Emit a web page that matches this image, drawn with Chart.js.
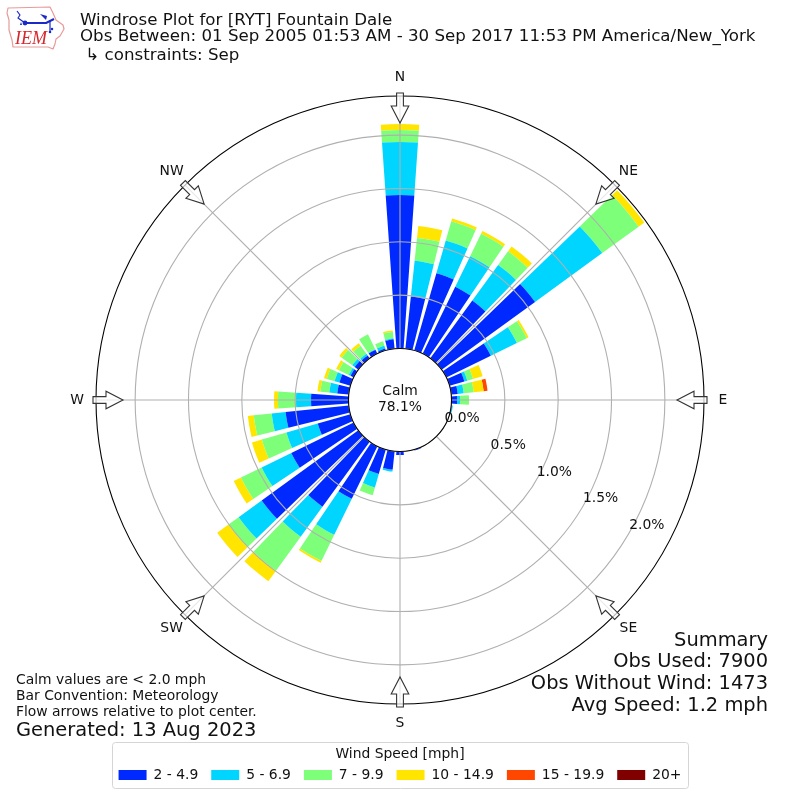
<!DOCTYPE html>
<html>
<head>
<meta charset="utf-8">
<style>html,body{margin:0;padding:0;background:#fff}canvas{display:block}</style>
<script src="https://cdn.jsdelivr.net/npm/chart.js@4/dist/chart.umd.js"></script>
</head>
<body>
<canvas id="c" width="800" height="800"></canvas>
<script>
const compassLabels = ['N','NE','E','SE','S','SW','W','NW'];
const directions = [0,10,20,30,40,50,60,70,80,90,100,110,120,130,140,150,160,170,180,190,200,210,220,230,240,250,260,270,280,290,300,310,320,330,340,350];
const speedLabels = ['2 - 4.9','5 - 6.9','7 - 9.9','10 - 14.9','15 - 19.9','20+'];
const speedColors = ['#0029ff','#00d5ff','#7dff7a','#ffe500','#ff4700','#800000'];
const speed2to5   = [1.439,.492,.754,.698,.670,1.082,.464,.145,.061,.052,.005,0,0,0,0,0,.010,0,.033,.173,.239,.548,.754,1.120,.651,.319,.595,.351,.108,.108,.033,.042,.033,.042,.019,.089];
const speed5to7   = [.497,.337,.319,.319,.412,.778,.272,.028,.056,.028,.010,0,0,0,0,0,0,0,0,.019,.131,.375,.347,.267,.309,.305,.131,.141,.075,.047,.019,.028,.019,.005,.028,.009];
const speed7to10  = [.112,.216,.187,.234,.159,.422,.103,.056,.094,.084,0,0,0,0,0,0,0,0,0,0,.075,.272,.394,.117,.216,.240,.169,.169,.084,.075,.103,.122,.094,.155,.042,.061];
const speed10to15 = [.056,.112,.028,.028,.056,.066,.019,.094,.094,0,0,0,0,0,0,0,0,0,0,0,0,.019,.122,.131,.075,.097,.056,.037,.028,.028,.028,.028,.028,0,0,.014];
const speed15to20 = [0,0,0,0,0,0,0,0,.037,0,0,0,0,0,0,0,0,0,0,0,0,0,0,0,0,0,0,0,0,0,0,0,0,0,0,0];
const speed20plus = [0,0,0,0,0,0,0,0,0,0,0,0,0,0,0,0,0,0,0,0,0,0,0,0,0,0,0,0,0,0,0,0,0,0,0,0];
const seriesValues = [speed2to5,speed5to7,speed7to10,speed10to15,speed15to20,speed20plus];
const radialTicks = [0,0.5,1,1.5,2];
const titleLines = ['Windrose Plot for [RYT] Fountain Dale','Obs Between: 01 Sep 2005 01:53 AM - 30 Sep 2017 11:53 PM America/New_York',' \u21B3 constraints: Sep'];
const noteLines = ['Calm values are < 2.0 mph','Bar Convention: Meteorology','Flow arrows relative to plot center.'];
const generatedLine = 'Generated: 13 Aug 2023';
const summaryLines = ['Summary','Obs Used: 7900','Obs Without Wind: 1473','Avg Speed: 1.2 mph'];
const calmLines = ['Calm','78.1%'];

const FONT = '"DejaVu Sans"';
const BAR_DEG = 8;
Chart.defaults.font.family = FONT;

class WindroseController extends Chart.PolarAreaController {
  updateElements(arcs, start, count, mode) {
    const scale = this._cachedMeta.rScale;
    const ds = this.index;
    const all = this.chart.data.datasets;
    for (let i = start; i < start + count; i++) {
      let base = 0;
      for (let d = 0; d < ds; d++) base += all[d].data[i] || 0;
      const v = all[ds].data[i] || 0;
      const mid = (directions[i] - 90) * Math.PI / 180;
      const half = BAR_DEG / 2 * Math.PI / 180;
      const inner = scale.getDistanceFromCenterForValue(base);
      const outer = scale.getDistanceFromCenterForValue(base + v);
      this.updateElement(arcs[i], i, {
        x: scale.xCenter, y: scale.yCenter,
        innerRadius: inner, outerRadius: outer,
        startAngle: mid - half, endAngle: mid + half,
        circumference: 2 * half,
        options: this.resolveDataElementOptions(i, mode)
      }, mode);
    }
  }
}
WindroseController.id = 'windrose';
Chart.register(WindroseController);

function text(ctx, s, x, y, font, align, color) {
  ctx.font = font; ctx.textAlign = align || 'left'; ctx.textBaseline = 'middle';
  ctx.fillStyle = color || '#000'; ctx.fillText(s, x, y);
}

function drawLogo(ctx) {
  ctx.save();
  ctx.strokeStyle = '#e89a9a'; ctx.lineWidth = 1.2; ctx.lineJoin = 'round';
  ctx.beginPath();
  [[8,8],[50,7],[53,13],[56,20],[63,25],[64,29],[60,36],[56,39],[55,44],[53,49],[48,47],[13,47],[12,40],[9,30],[9,20],[7,13]]
    .forEach((p, i) => i ? ctx.lineTo(p[0], p[1]) : ctx.moveTo(p[0], p[1]));
  ctx.closePath(); ctx.stroke();
  ctx.strokeStyle = '#1a2ac8'; ctx.fillStyle = '#1a2ac8'; ctx.lineWidth = 2;
  ctx.beginPath(); ctx.moveTo(25,23); ctx.lineTo(46,23); ctx.lineTo(54,19); ctx.stroke();
  ctx.lineWidth = 1.2;
  ctx.beginPath(); ctx.moveTo(17,11); ctx.lineTo(20,15); ctx.lineTo(18,18); ctx.lineTo(25,23);
  ctx.moveTo(50,20); ctx.lineTo(50,31); ctx.stroke();
  ctx.beginPath(); ctx.arc(25,23,2.4,0,7); ctx.fill();
  ctx.beginPath(); ctx.moveTo(40,14); ctx.lineTo(47,16); ctx.lineTo(46,20); ctx.closePath(); ctx.fill();
  ctx.beginPath(); ctx.arc(52,29,1.3,0,7); ctx.arc(50,32,1.3,0,7); ctx.fill();
  ctx.beginPath(); ctx.moveTo(20,25); ctx.lineTo(22,25); ctx.lineTo(21,22); ctx.closePath(); ctx.fill();
  ctx.restore();
  text(ctx, 'IEM', 15, 39, 'italic 18px "Liberation Serif"', 'left', '#d8262c');
}

function drawArrow(ctx, cx, cy, angle) {
  ctx.save();
  ctx.translate(cx, cy); ctx.rotate(angle);
  ctx.beginPath();
  ctx.moveTo(307, -3.4); ctx.lineTo(294, -3.4); ctx.lineTo(294, -8.8);
  ctx.lineTo(277, 0);
  ctx.lineTo(294, 8.8); ctx.lineTo(294, 3.4); ctx.lineTo(307, 3.4);
  ctx.closePath();
  ctx.fillStyle = 'rgba(255,255,255,0.7)'; ctx.fill();
  ctx.strokeStyle = '#333'; ctx.lineWidth = 1.1; ctx.stroke();
  ctx.restore();
}

const decorations = {
  id: 'decorations',
  afterDraw(chart) {
    const ctx = chart.ctx, r = chart.scales.r;
    const cx = r.xCenter, cy = r.yCenter;
    ctx.save();
    ctx.beginPath(); ctx.arc(cx, cy, r.getDistanceFromCenterForValue(r.max), 0, Math.PI * 2);
    ctx.strokeStyle = '#000'; ctx.lineWidth = 1.1; ctx.stroke();
    ctx.beginPath(); ctx.arc(cx, cy, r.getDistanceFromCenterForValue(0), 0, Math.PI * 2);
    ctx.fillStyle = '#fff'; ctx.fill(); ctx.strokeStyle = '#000'; ctx.lineWidth = 1.1; ctx.stroke();
    text(ctx, calmLines[0], cx, cy - 9, '13.89px ' + FONT, 'center', '#111');
    text(ctx, calmLines[1], cx, cy + 7.5, '13.89px ' + FONT, 'center', '#111');
    compassLabels.forEach((lab, i) => {
      const a = r.getIndexAngle(i) - Math.PI / 2;
      drawArrow(ctx, cx, cy, a);
      text(ctx, lab, cx + 323 * Math.cos(a), cy + 323 * Math.sin(a), '13.89px ' + FONT, 'center', '#111');
    });
    const rl = 30 * Math.PI / 180;
    r.ticks.forEach(t => {
      const d = r.getDistanceFromCenterForValue(t.value);
      text(ctx, t.label, cx + d * Math.cos(rl) + 17.4, cy + d * Math.sin(rl) - 7, '13.89px ' + FONT, 'center', '#111');
    });
    [20.5, 36.5, 56].forEach((y, i) => text(ctx, titleLines[i], 80, y, '16.67px ' + FONT, 'left', '#111'));
    [680.5, 696.5, 712.5].forEach((y, i) => text(ctx, noteLines[i], 16, y, '13.89px ' + FONT, 'left', '#111'));
    text(ctx, generatedLine, 16, 730.5, '19.44px ' + FONT, 'left', '#111');
    [640.5, 662, 684, 705.5].forEach((y, i) => text(ctx, summaryLines[i], 768, y, '19.44px ' + FONT, 'right', '#111'));
    drawLogo(ctx);
    ctx.beginPath(); ctx.roundRect(112.5, 742.5, 576, 46, 3);
    ctx.strokeStyle = '#d5d5d5'; ctx.lineWidth = 1; ctx.stroke();
    ctx.restore();
  }
};

new Chart(document.getElementById('c'), {
  type: 'windrose',
  data: {
    labels: compassLabels,
    datasets: speedLabels.map((label, i) => ({ label, data: seriesValues[i], backgroundColor: speedColors[i], borderWidth: 0 }))
  },
  plugins: [decorations],
  options: {
    responsive: false,
    animation: false,
    devicePixelRatio: 1,
    layout: { padding: { top: 96, bottom: 8, left: 0, right: 0 } },
    scales: {
      r: {
        type: 'radialLinear',
        min: -0.483,
        max: 2.367,
        afterBuildTicks: s => { s.ticks = radialTicks.map(value => ({ value })); },
        ticks: { display: false, callback: v => v.toFixed(1) + '%' },
        pointLabels: { display: false },
        grid: { circular: true, color: '#b0b0b0', lineWidth: 1.1, z: 1 },
        angleLines: { display: true, color: '#b0b0b0', lineWidth: 1.1 }
      }
    },
    plugins: {
      tooltip: { enabled: false },
      legend: {
        display: true,
        position: 'bottom',
        title: { display: true, text: 'Wind Speed [mph]', color: '#111', font: { size: 13.89 }, padding: { top: 42, bottom: -9 } },
        labels: {
          boxWidth: 28, boxHeight: 10, padding: 13, color: '#111', font: { size: 13.89 },
          generateLabels: chart => chart.data.datasets.map((d, i) => ({ text: d.label, fillStyle: d.backgroundColor, strokeStyle: d.backgroundColor, lineWidth: 0, datasetIndex: i }))
        }
      }
    }
  }
});
</script>
</body>
</html>
